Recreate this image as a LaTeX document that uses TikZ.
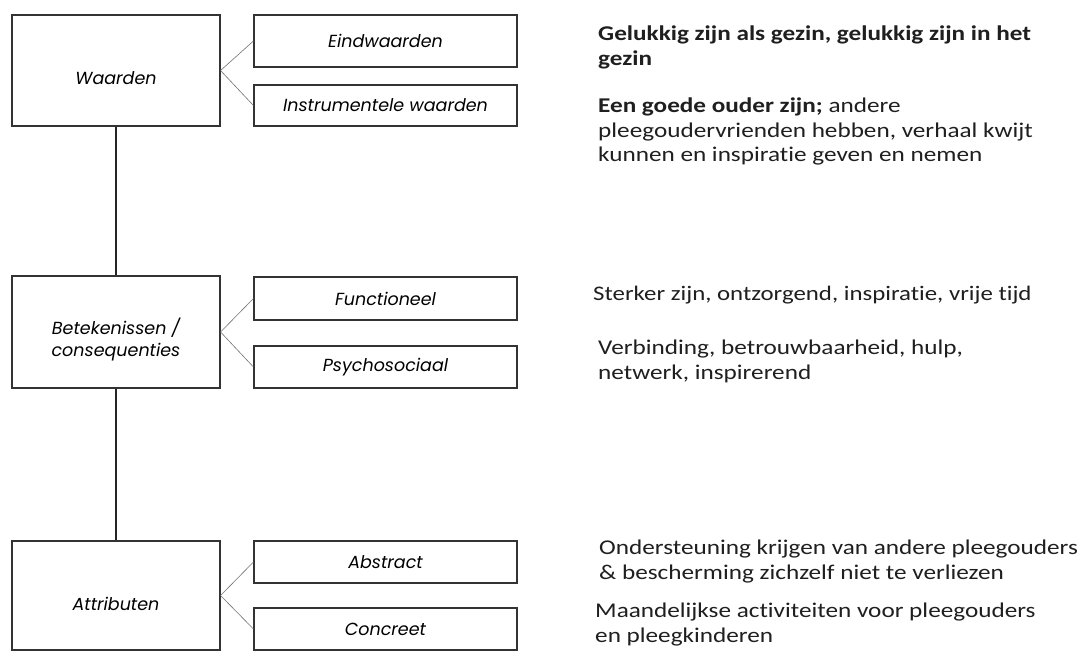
\documentclass[tikz,border=0pt]{standalone}
\usepackage{fontspec}
\setmainfont{Carlito}[Ligatures=NoCommon, FakeStretch=1.2]
\newfontfamily\boxfont{Poppins}
\begin{document}
\begin{tikzpicture}[x=1pt,y=-1pt,
  boxtext/.style={font=\boxfont\itshape\fontsize{17.5}{22}\selectfont},
  mainbox/.style={draw=black!80, line width=1.1pt, fill=white, minimum width=208pt,
    inner sep=0pt},
  mainlabel/.style={boxtext, align=center, inner sep=0pt, yshift=-8pt},
  subbox/.style={draw=black!80, line width=1.1pt, fill=white, minimum width=263pt,
    inner sep=0pt, align=center, boxtext},
  link/.style={draw=black!55, line width=0.6pt},
  spine/.style={draw=black!85, line width=1.2pt},
  note/.style={anchor=north west, inner sep=0pt, align=left, text=black!88,
    font=\fontsize{21}{24.5}\selectfont}
]
\useasboundingbox[fill=white] (0,0) rectangle (1084,652);

% left column: levels of the ladder
\node[mainbox, minimum height=111pt, label={[mainlabel]center:Waarden}] (w) at (116,70.5) {};
\node[mainbox, minimum height=112pt, label={[mainlabel]center:Betekenissen /\\consequenties}] (b) at (116,332) {};
\node[mainbox, minimum height=109pt, label={[mainlabel]center:Attributen}] (a) at (116,595.5) {};

% middle column: subdivisions
\node[subbox, minimum height=52pt] (w1) at (385.5,41) {Eindwaarden};
\node[subbox, minimum height=41pt] (w2) at (385.5,105.5) {Instrumentele waarden};
\node[subbox, minimum height=43pt] (b1) at (385.5,298.5) {Functioneel};
\node[subbox, minimum height=42pt] (b2) at (385.5,367) {Psychosociaal};
\node[subbox, minimum height=42pt] (a1) at (385.5,562) {Abstract};
\node[subbox, minimum height=42pt] (a2) at (385.5,629) {Concreet};

% vertical spine
\draw[spine] (w.south) -- (b.north);
\draw[spine] (b.south) -- (a.north);

% branches
\draw[link] (w.east) -- (w1.west);
\draw[link] (w.east) -- (w2.west);
\draw[link] (b.east) -- (b1.west);
\draw[link] (b.east) -- (b2.west);
\draw[link] (a.east) -- (a1.west);
\draw[link] (a.east) -- (a2.west);

% descriptions
\node[note] (t1) at (598,26) {\textbf{Gelukkig zijn als gezin, gelukkig zijn in het}\\\textbf{gezin}};
\node[note] (t2) at (598,98) {\textbf{Een goede ouder zijn;} andere\\pleegoudervrienden hebben, verhaal kwijt\\kunnen en inspiratie geven en nemen};
\node[note, font=\fontsize{20.7}{24}\selectfont] (t3) at (593,286) {Sterker zijn, ontzorgend, inspiratie, vrije tijd};
\node[note] (t4) at (598,340) {Verbinding, betrouwbaarheid, hulp,\\netwerk, inspirerend};
\node[note] (t5) at (599,540) {Ondersteuning krijgen van andere pleegouders\\\& bescherming zichzelf niet te verliezen};
\node[note] (t6) at (595,603) {Maandelijkse activiteiten voor pleegouders\\en pleegkinderen};
\end{tikzpicture}
\end{document}
